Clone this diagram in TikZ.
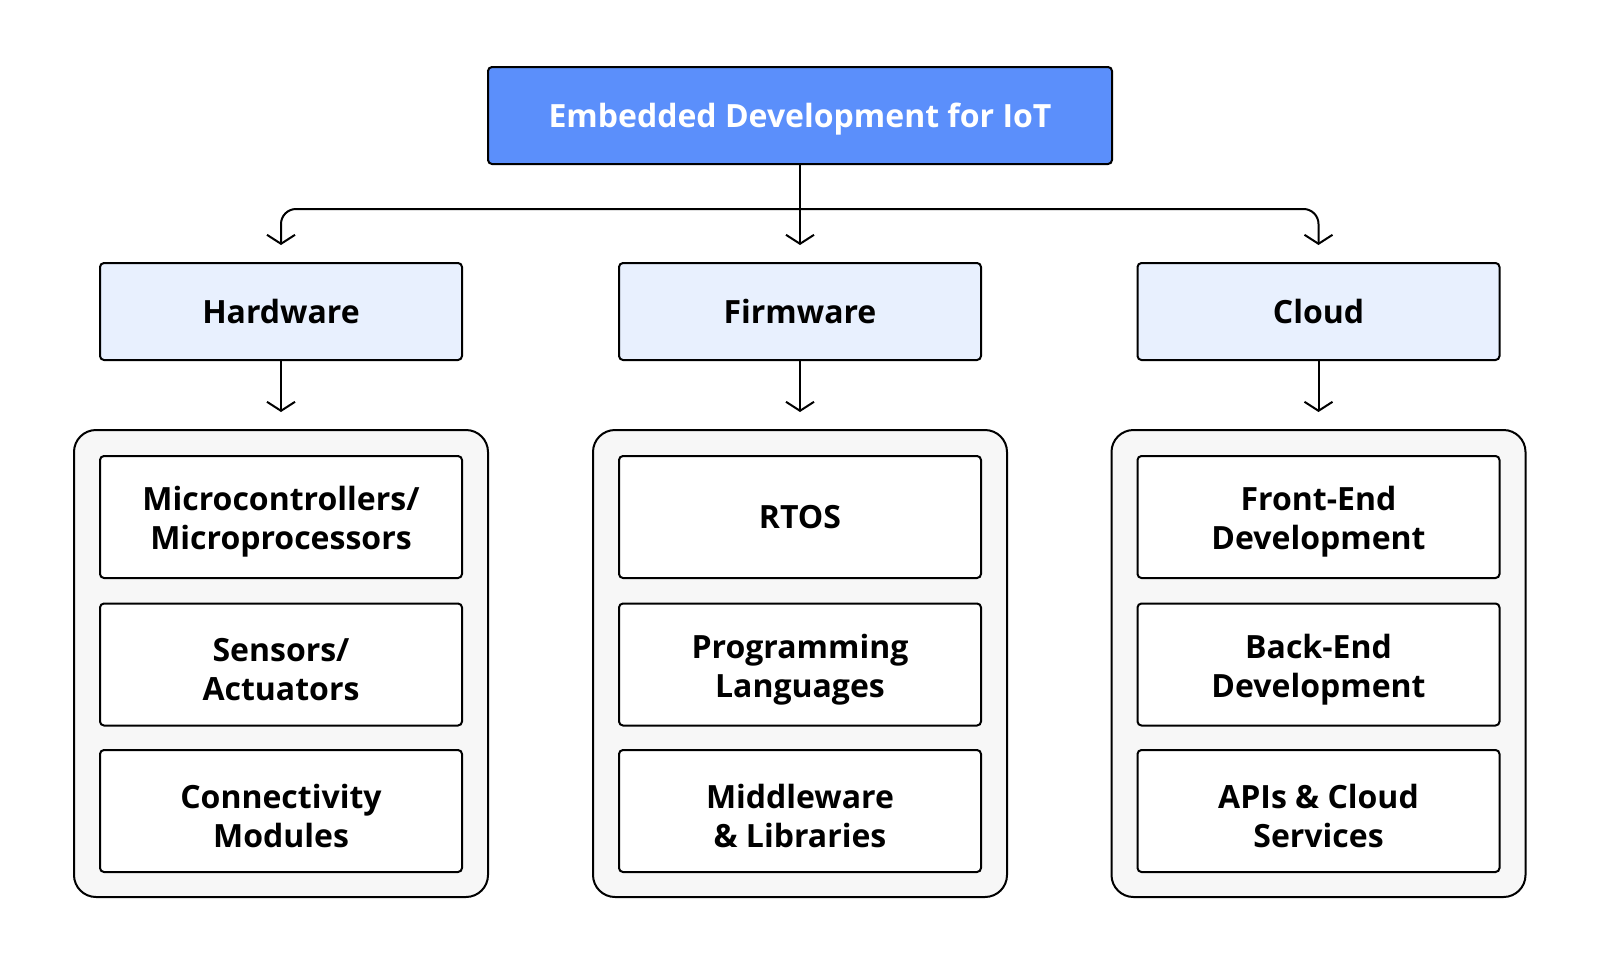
\documentclass[tikz,border=0pt]{standalone}
\usepackage{fontspec}
\setmainfont{Open Sans}
\usetikzlibrary{arrows.meta,calc}
\definecolor{topblue}{HTML}{5B8FFB}
\definecolor{catfill}{HTML}{E8F0FE}
\definecolor{contfill}{HTML}{F7F7F7}
\newcommand\mystrut{\rule{0pt}{34pt}}
\tikzset{
  base/.style={draw=black, line width=2pt, rounded corners=4pt, align=center,
    font=\fontsize{32}{39}\selectfont\bfseries, inner sep=0pt},
  topbox/.style={base, fill=topblue, text=white, minimum width=624pt, minimum height=97pt},
  catbox/.style={base, fill=catfill, minimum width=362pt, minimum height=97pt},
  itembox/.style={base, fill=white, minimum width=362pt, minimum height=122pt},
  contbox/.style={draw=black, line width=2pt, rounded corners=22pt, fill=contfill,
    minimum width=414pt, minimum height=467pt, inner sep=0pt},
  arr/.style={draw=black, line width=2pt, -{Straight Barb[length=9pt,width=28pt,line width=2pt]}},
}
\begin{document}
\begin{tikzpicture}[x=1pt,y=-1pt]
\useasboundingbox[fill=white] (0,0) rectangle (1600,964);
\node[topbox] (top) at (800,115.5) {\rule{0pt}{32pt}Embedded Development for IoT};
\node[catbox] (hw) at (281,311.5) {Hardware};
\node[catbox] (fw) at (800,311.5) {Firmware};
\node[catbox] (cl) at (1318.5,311.5) {Cloud};
\node[contbox] (hwc) at (281,663.5) {};
\node[contbox] (fwc) at (800,663.5) {};
\node[contbox] (clc) at (1318.5,663.5) {};
\node[itembox] (hw1) at (281,517) {\mystrut Microcontrollers/\\Microprocessors};
\node[itembox] (hw2) at (281,664.5) {\mystrut Sensors/\\Actuators};
\node[itembox] (hw3) at (281,811) {\mystrut Connectivity\\Modules};
\node[itembox] (fw1) at (800,517) {RTOS};
\node[itembox] (fw2) at (800,664.5) {\mystrut Programming\\Languages};
\node[itembox] (fw3) at (800,811) {\mystrut Middleware\\\& Libraries};
\node[itembox] (cl1) at (1318.5,517) {\mystrut Front-End\\Development};
\node[itembox] (cl2) at (1318.5,664.5) {\mystrut Back-End\\Development};
\node[itembox] (cl3) at (1318.5,811) {\mystrut APIs \& Cloud\\Services};
\coordinate (j) at (800,209);
\coordinate (ahw) at (281,245);
\coordinate (afw) at (800,245);
\coordinate (acl) at (1318.5,245);
\coordinate (bhw) at (281,412);
\coordinate (bfw) at (800,412);
\coordinate (bcl) at (1318.5,412);
\draw[arr] (top.south) -- (afw);
\draw[arr, rounded corners=15pt] (j) -| (ahw);
\draw[arr, rounded corners=15pt] (j) -| (acl);
\draw[arr] (hw.south) -- (bhw);
\draw[arr] (fw.south) -- (bfw);
\draw[arr] (cl.south) -- (bcl);
\end{tikzpicture}
\end{document}
